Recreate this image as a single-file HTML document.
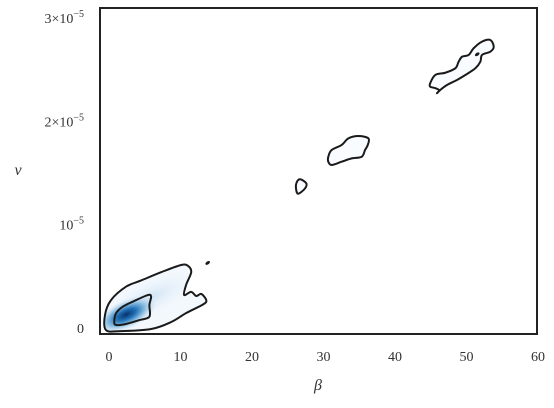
<!DOCTYPE html>
<html><head><meta charset="utf-8"><style>
body{margin:0;background:#fff;}
svg text{font-family:"Liberation Serif","DejaVu Serif",serif;fill:#333;}
</style></head><body>
<svg width="554" height="403" viewBox="0 0 554 403">
<defs>
<radialGradient id="g1" cx="0.5" cy="0.5" r="0.5">
<stop offset="0" stop-color="#08306b"/>
<stop offset="0.3" stop-color="#1f6fb5"/>
<stop offset="0.6" stop-color="#8dbfe2"/>
<stop offset="1" stop-color="#e3eef9" stop-opacity="0"/>
</radialGradient>
<radialGradient id="g2" cx="0.5" cy="0.5" r="0.5">
<stop offset="0" stop-color="#d2e4f4"/>
<stop offset="1" stop-color="#f7fbff" stop-opacity="0"/>
</radialGradient>
<clipPath id="outerclip"><path id="outerpath"/></clipPath>
</defs>
<g id="plot"></g>
<rect x="100" y="8" width="437" height="326" fill="none" stroke="#222" stroke-width="2"/>
<g id="xt"></g>
<g id="yt"></g>
<text x="318" y="390" font-size="16" font-style="italic" text-anchor="middle">β</text>
<text x="18" y="175" font-size="16" font-style="italic" text-anchor="middle">ν</text>
</svg>
<script>
const xTicks=[0,10,20,30,40,50,60];
const yTicks=[0,1,2,3];
const yTickBase=["0","10","2×10","3×10"];
const yTickExp=["","−5","−5","−5"];
const outerBeta=[-0.42,-0.56,0.28,2.38,4.49,7.29,10.1,11.08,11.5,10.8,10.5,11.5,12.2,12.9,13.6,13.2,10.8,8.7,5.9,1.7];
const outerNu=[-0.02,0.126,0.27,0.40,0.46,0.54,0.61,0.60,0.54,0.42,0.32,0.35,0.31,0.33,0.27,0.23,0.145,0.058,-0.01,-0.03];
const innerBeta=[0.74,0.98,1.92,3.32,5.43,5.89,5.65,5.65,4.25,2.38,0.98];
const innerNu=[0.061,0.142,0.206,0.255,0.319,0.303,0.223,0.109,0.077,0.039,0.029];
const smallBeta=[26.2,26.7,27.6,27.4,26.5,26.2];
const smallNu=[1.40,1.44,1.40,1.35,1.30,1.33];
const midBeta=[30.67,31.14,32.54,33.48,34.88,36.28,36.19,35.81,35.35,33.94,32.54,31.14,30.67];
const midNu=[1.658,1.723,1.772,1.836,1.859,1.836,1.772,1.723,1.658,1.642,1.610,1.578,1.610];
const upBeta=[44.92,45.62,47.03,48.43,48.90,49.37,50.30,51.0,52.17,53.33,53.81,53.33,52.17,51.94,51.24,49.84,48.67,47.27,46.33,45.87,46.15,45.59,44.92];
const upNu=[2.369,2.449,2.471,2.514,2.578,2.626,2.643,2.708,2.772,2.788,2.723,2.675,2.643,2.578,2.514,2.449,2.401,2.352,2.304,2.272,2.304,2.323,2.336];
const dotBeta=[13.8,51.5];
const dotNu=[0.63,2.65];
const peakBeta=2.4, peakNu=0.13;

const NS="http://www.w3.org/2000/svg";
const X=b=>109+b*7.15;
const Y=n=>328-n*103.3;
function pathD(bs,ns){
  const p=bs.map((b,i)=>[X(b),Y(ns[i])]);const n=p.length;
  let d=`M${p[0][0]},${p[0][1]}`;
  for(let i=0;i<n;i++){const p0=p[(i-1+n)%n],p1=p[i],p2=p[(i+1)%n],p3=p[(i+2)%n];
    d+=`C${p1[0]+(p2[0]-p0[0])/6},${p1[1]+(p2[1]-p0[1])/6} ${p2[0]-(p3[0]-p1[0])/6},${p2[1]-(p3[1]-p1[1])/6} ${p2[0]},${p2[1]}`;}
  return d+"Z";
}
const plot=document.getElementById('plot');
function mk(tag,attrs){const e=document.createElementNS(NS,tag);for(const k in attrs)e.setAttribute(k,attrs[k]);return e;}
document.getElementById('outerpath').setAttribute('d',pathD(outerBeta,outerNu));
const shade=mk('g',{'clip-path':'url(#outerclip)'});


shade.appendChild(mk('path',{d:pathD(outerBeta,outerNu),fill:'#f3f8fd'}));
shade.appendChild(mk('ellipse',{cx:X(6),cy:Y(0.3),rx:60,ry:22,fill:'url(#g2)',transform:`rotate(-25 ${X(6)} ${Y(0.3)})`}));
shade.appendChild(mk('ellipse',{cx:X(peakBeta),cy:Y(peakNu),rx:34,ry:15,fill:'url(#g1)',transform:`rotate(-25 ${X(peakBeta)} ${Y(peakNu)})`}));
plot.appendChild(shade);
[[smallBeta,smallNu,'contour-small'],[midBeta,midNu,'contour-middle'],[upBeta,upNu,'contour-upper']].forEach(([b,n,name])=>{
  const e=mk('path',{d:pathD(b,n),fill:'#f8fbff',stroke:'#1a1a1a','stroke-width':2,'stroke-linejoin':'round'});
  
  
  plot.appendChild(e);
});
[[outerBeta,outerNu,'contour-outer'],[innerBeta,innerNu,'contour-inner']].forEach(([b,n,name])=>{
  const e=mk('path',{d:pathD(b,n),fill:'none',stroke:'#1a1a1a','stroke-width':2,'stroke-linejoin':'round'});
  
  
  plot.appendChild(e);
});
dotBeta.forEach((b,i)=>{
  const e=mk('ellipse',{cx:X(b),cy:Y(dotNu[i]),rx:2.6,ry:1.5,fill:'#1a1a1a',transform:`rotate(-35 ${X(b)} ${Y(dotNu[i])})`});
  
  
  plot.appendChild(e);
});
const xt=document.getElementById('xt');
xTicks.forEach(v=>{const t=mk('text',{x:X(v),y:361,'font-size':14,'text-anchor':'middle'});t.textContent=v;
  
  
  xt.appendChild(t);});
const yt=document.getElementById('yt');
yTicks.forEach((v,i)=>{const t=mk('text',{x:84,y:Y(v)+5,'font-size':14,'text-anchor':'end'});
  t.appendChild(document.createTextNode(yTickBase[i]));
  if(yTickExp[i]){const s=mk('tspan',{'font-size':10,dy:-6});s.textContent=yTickExp[i];t.appendChild(s);}
  
  
  yt.appendChild(t);});
</script>
</body></html>
